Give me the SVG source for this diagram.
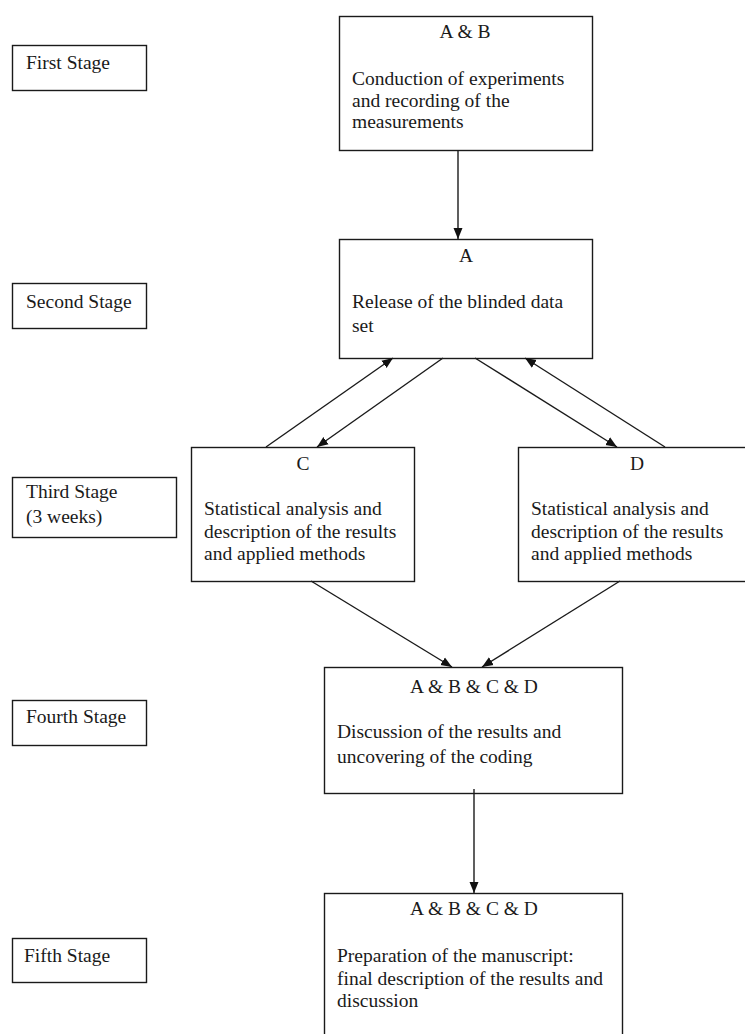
<svg xmlns="http://www.w3.org/2000/svg" width="745" height="1034" viewBox="0 0 745 1034">
<defs>
<style>
.box{fill:#fff;stroke:#1a1a1a;stroke-width:1.4}
.t{font-family:"Liberation Serif","Times New Roman",serif;font-size:19.5px;fill:#1a1a1a}
.c{text-anchor:middle}
.edge{stroke:#1a1a1a;stroke-width:1.4;fill:none;marker-end:url(#ah)}
</style>
<marker id="ah" markerUnits="userSpaceOnUse" markerWidth="12" markerHeight="10" refX="11" refY="5" orient="auto">
<path d="M0,0.5 L11,5 L0,9.5 z" fill="#111"/>
</marker>
</defs>
<rect width="745" height="1034" fill="#fff"/>

<g id="stage1">
<rect class="box" x="12.5" y="45.5" width="134" height="45"/>
<text class="t" x="26" y="69">First Stage</text>
</g>
<g id="stage2">
<rect class="box" x="12.5" y="283.5" width="134" height="45"/>
<text class="t" x="26" y="308">Second Stage</text>
</g>
<g id="stage3">
<rect class="box" x="12.5" y="477.5" width="164" height="60"/>
<text class="t" x="26" y="498">Third Stage</text>
<text class="t" x="26" y="523">(3 weeks)</text>
</g>
<g id="stage4">
<rect class="box" x="12.5" y="700.5" width="134" height="45"/>
<text class="t" x="26" y="723">Fourth Stage</text>
</g>
<g id="stage5">
<rect class="box" x="12.5" y="938.5" width="134" height="44"/>
<text class="t" x="24" y="962">Fifth Stage</text>
</g>

<g id="nodeAB">
<rect class="box" x="339.5" y="16.5" width="253" height="134"/>
<text class="t c" x="465" y="38">A &amp; B</text>
<text class="t" x="352" y="85">Conduction of experiments</text>
<text class="t" x="352" y="107">and recording of the</text>
<text class="t" x="352" y="128">measurements</text>
</g>
<g id="nodeA">
<rect class="box" x="339.5" y="239.5" width="253" height="119"/>
<text class="t c" x="466" y="262">A</text>
<text class="t" x="352" y="308">Release of the blinded data</text>
<text class="t" x="352" y="332">set</text>
</g>
<g id="nodeC">
<rect class="box" x="191.5" y="447.5" width="223" height="134"/>
<text class="t c" x="303" y="470">C</text>
<text class="t" x="204" y="515">Statistical analysis and</text>
<text class="t" x="204" y="538">description of the results</text>
<text class="t" x="204" y="560">and applied methods</text>
</g>
<g id="nodeD">
<rect class="box" x="518.5" y="447.5" width="240" height="134"/>
<text class="t c" x="637" y="470">D</text>
<text class="t" x="531" y="515">Statistical analysis and</text>
<text class="t" x="531" y="538">description of the results</text>
<text class="t" x="531" y="560">and applied methods</text>
</g>
<g id="nodeABCD1">
<rect class="box" x="324.5" y="667.5" width="298" height="126"/>
<text class="t c" x="474" y="693">A &amp; B &amp; C &amp; D</text>
<text class="t" x="337" y="738">Discussion of the results and</text>
<text class="t" x="337" y="763">uncovering of the coding</text>
</g>
<g id="nodeABCD2">
<rect class="box" x="324.5" y="893.5" width="298" height="160"/>
<text class="t c" x="474" y="915">A &amp; B &amp; C &amp; D</text>
<text class="t" x="337" y="962">Preparation of the manuscript:</text>
<text class="t" x="337" y="985">final description of the results and</text>
<text class="t" x="337" y="1007">discussion</text>
</g>

<g id="connectors">
<line class="edge" x1="458" y1="150" x2="458" y2="239"/>
<line class="edge" x1="266" y1="447" x2="393" y2="358"/>
<line class="edge" x1="443" y1="358" x2="317" y2="447"/>
<line class="edge" x1="475" y1="358" x2="617" y2="447"/>
<line class="edge" x1="665" y1="447" x2="525" y2="358"/>
<line class="edge" x1="311" y1="581" x2="452" y2="667"/>
<line class="edge" x1="620" y1="581" x2="482" y2="667"/>
<line class="edge" x1="474" y1="789" x2="474" y2="893"/>
</g>
</svg>
